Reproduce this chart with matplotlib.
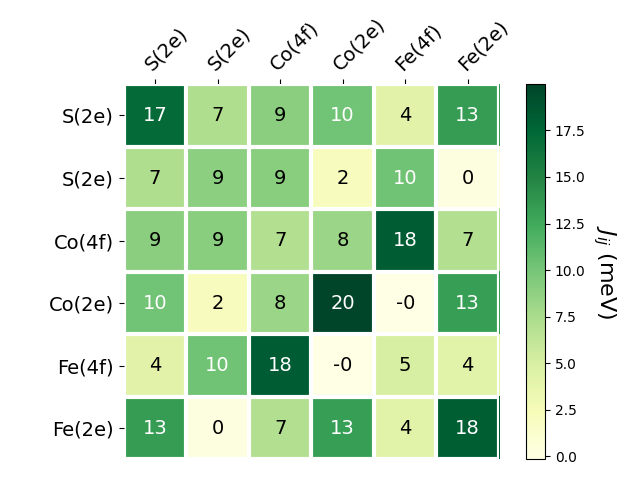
import numpy as np
import matplotlib
matplotlib.use("Agg")
import matplotlib.pyplot as plt

labels = ["S(2e)", "S(2e)", "Co(4f)", "Co(2e)", "Fe(4f)", "Fe(2e)"]
J = np.array([
    [17.1, 7.2, 9.0, 10.2, 4.1, 13.3],
    [7.2, 8.9, 9.1, 2.1, 10.3, 0.2],
    [9.0, 9.1, 7.0, 8.2, 18.3, 7.1],
    [10.2, 2.1, 8.2, 19.98, -0.16, 13.2],
    [4.1, 10.3, 18.3, -0.16, 5.0, 4.2],
    [13.3, 0.2, 7.1, 13.2, 4.2, 18.1],
])

fig, ax = plt.subplots(figsize=(6.4, 4.8), dpi=100)
im = ax.imshow(J, cmap="YlGn")
cbar = fig.colorbar(im, ax=ax)
cbar.ax.set_ylabel("$J_{ij}$ (meV)", rotation=-90, va="bottom", fontsize=16)

ax.set_xticks(np.arange(J.shape[1]), labels=labels, fontsize=14)
ax.set_yticks(np.arange(J.shape[0]), labels=labels, fontsize=14)
ax.tick_params(top=True, bottom=False, labeltop=True, labelbottom=False)
plt.setp(ax.get_xticklabels(), rotation=45, ha="left", rotation_mode="anchor")

for s in ax.spines.values():
    s.set_visible(False)
ax.set_xticks(np.arange(J.shape[1] + 1) - .5, minor=True)
ax.set_yticks(np.arange(J.shape[0] + 1) - .5, minor=True)
ax.grid(which="minor", color="w", linestyle="-", linewidth=3)
ax.tick_params(which="minor", bottom=False, left=False, top=False)

thr = im.norm(J.max()) / 2.
for i in range(J.shape[0]):
    for j in range(J.shape[1]):
        c = "white" if im.norm(J[i, j]) > thr else "black"
        ax.text(j, i, f"{J[i, j]:.0f}", ha="center", va="center", color=c, fontsize=14)

fig.tight_layout()
fig.savefig("out.png", dpi=100)
